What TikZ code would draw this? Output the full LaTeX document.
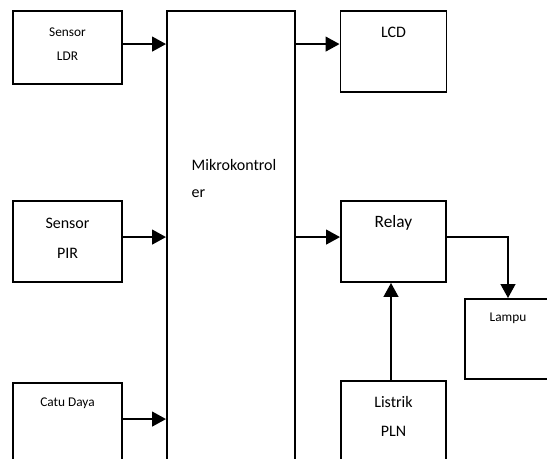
\documentclass[tikz,border=0pt]{standalone}
\usepackage{fontspec}
\setmainfont{Carlito}
\usetikzlibrary{arrows.meta,calc,positioning}
\begin{document}
\begin{tikzpicture}[x=0.75pt,y=-0.75pt,
        blok/.style={draw, line width=1.4pt, inner sep=0pt},
        panah/.style={line width=1.7pt, -{Triangle[length=10.5pt,width=11pt]}},
        kecil/.style={font=\fontsize{10}{12}\selectfont},
        biasa/.style={font=\fontsize{12}{14}\selectfont}]
        \useasboundingbox (0,0) rectangle (547,459);
        \clip (0,0) rectangle (547,459);
        %blok masukan
        \node[blok, minimum width=81.75pt, minimum height=54.75pt] (ldr) at (67.5,47.5) {};
        \node[blok, minimum width=81.75pt, minimum height=60.75pt] (pir) at (67.5,241.5) {};
        \node[blok, minimum width=81.75pt, minimum height=72.75pt] (catu) at (67.5,431.5) {};
        %mikrokontroler
        \node[blok, minimum width=96pt, minimum height=351.75pt] (mcu) at (231,245.5) {};
        %blok keluaran
        \node[blok, minimum width=79.5pt, minimum height=60.75pt] (lcd) at (393.5,51.5) {};
        \node[blok, minimum width=78.75pt, minimum height=60.75pt] (relay) at (393.5,241.5) {};
        \node[blok, minimum width=64.5pt, minimum height=60pt] (lampu) at (508,339) {};
        \node[blok, minimum width=78.75pt, minimum height=74.25pt] (pln) at (393.5,430.5) {};
        %teks
        \node[kecil] (tldr1) at (67.5,32) {Sensor};
        \node[kecil] (tldr2) at (67.5,56) {LDR};
        \node[biasa] (tpir1) at (67.5,223) {Sensor};
        \node[biasa] (tpir2) at (67.5,253) {PIR};
        \node[kecil] (tcatu) at (67.5,403) {Catu Daya};
        \node[biasa, anchor=west] (tmcu1) at (187,165) {Mikrokontrol};
        \node[biasa, anchor=west] (tmcu2) at (187,194) {er};
        \node[biasa] (tlcd) at (393.5,32) {LCD};
        \node[font=\fontsize{13}{15}\selectfont] (trelay) at (393.5,223) {Relay};
        \node[kecil] (tlampu) at (508,318) {Lampu};
        \node[biasa] (tpln1) at (393.5,402) {Listrik};
        \node[biasa] (tpln2) at (393.5,431) {PLN};
        %panah
        \draw[panah] ($(ldr.north east)+(0,34)$) -- ($(ldr.north east -| mcu.west)+(0,34)$);
        \draw[panah] ($(pir.north east)+(0,37)$) -- ($(pir.north east -| mcu.west)+(0,37)$);
        \draw[panah] ($(catu.north east)+(0,37)$) -- ($(catu.north east -| mcu.west)+(0,37)$);
        \draw[panah] ($(lcd.north west -| mcu.east)+(0,34)$) -- ($(lcd.north west)+(0,34)$);
        \draw[panah] ($(relay.north west -| mcu.east)+(0,37)$) -- ($(relay.north west)+(0,37)$);
        \draw[panah] ($(relay.north east)+(0,37)$) -| (lampu.north);
        \draw[panah] (pln.north -| 391,0) -- (relay.south -| 391,0);
    \end{tikzpicture}
\end{document}
